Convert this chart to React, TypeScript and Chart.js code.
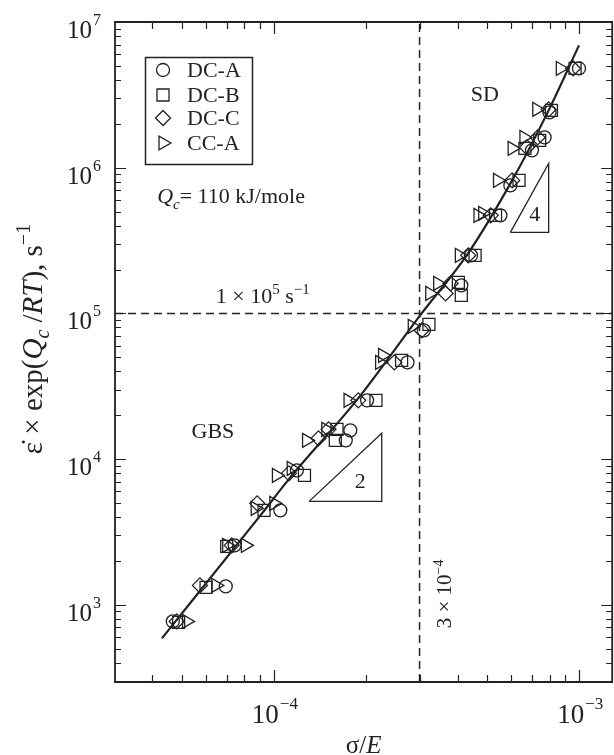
import React, { useEffect, useRef } from "react";
import { Chart, registerables } from "chart.js";

Chart.register(...registerables);

// ---- axis ranges ----
const X_MIN = 3.02e-5;
const X_MAX = 1.282e-3;
const Y_MIN = 295;
const Y_MAX = 1e7;

// ---- tick labels ----
const X_MAJOR = [1e-4, 1e-3];
const X_MAJOR_EXP = ["\u22124", "\u22123"];
const Y_MAJOR = [1e3, 1e4, 1e5, 1e6, 1e7];
const Y_MAJOR_EXP = ["3", "4", "5", "6", "7"];
const MINOR_MULT = [2, 3, 4, 5, 6, 7, 8, 9];
const X_DECADES = [-5, -4, -3];
const Y_DECADES = [2, 3, 4, 5, 6];

// ---- series ----
const SERIES_NAMES = ["DC-A", "DC-B", "DC-C", "CC-A"];

const dcA_x = [4.67e-5, 6.96e-5, 7.44e-5, 1.05e-4, 1.19e-4, 1.72e-4, 1.78e-4, 2.02e-4, 2.74e-4, 3.10e-4, 4.11e-4, 4.42e-4, 5.52e-4, 5.95e-4, 7.00e-4, 7.70e-4, 7.99e-4, 9.98e-4];
const dcA_y = [769, 1337, 2557, 4446, 8366, 13440, 15740, 25290, 46120, 76400, 155700, 250000, 470800, 755800, 1.315e6, 1.614e6, 2.396e6, 4.8e6];

const dcB_x = [4.88e-5, 6.0e-5, 7.01e-5, 9.29e-5, 1.26e-4, 1.59e-4, 1.61e-4, 2.16e-4, 2.62e-4, 3.22e-4, 4.11e-4, 4.02e-4, 4.56e-4, 5.32e-4, 6.35e-4, 6.64e-4, 7.42e-4, 8.11e-4, 9.69e-4];
const dcB_y = [757, 1316, 2518, 4446, 7727, 13440, 15990, 25290, 47560, 84030, 132900, 163200, 250000, 470800, 818000, 1.357e6, 1.54e6, 2.473e6, 4.8e6];

const dcC_x = [4.81e-5, 5.73e-5, 7.28e-5, 8.82e-5, 1.12e-4, 1.40e-4, 1.51e-4, 1.89e-4, 2.48e-4, 3.05e-4, 3.65e-4, 3.79e-4, 4.33e-4, 5.13e-4, 6.03e-4, 6.74e-4, 7.31e-4, 7.94e-4, 9.55e-4];
const dcC_y = [769, 1358, 2557, 4966, 7980, 13870, 15990, 25290, 46120, 76400, 137100, 160600, 250000, 470800, 818000, 1.378e6, 1.614e6, 2.512e6, 4.8e6];

const ccA_x = [5.18e-5, 6.46e-5, 7.01e-5, 8.07e-5, 8.69e-5, 1.0e-4, 1.02e-4, 1.14e-4, 1.28e-4, 1.48e-4, 1.75e-4, 2.22e-4, 2.27e-4, 2.84e-4, 3.24e-4, 3.44e-4, 4.05e-4, 4.66e-4, 4.83e-4, 5.40e-4, 6.03e-4, 6.59e-4, 7.26e-4, 8.67e-4];
const ccA_y = [769, 1358, 2557, 2557, 4590, 4966, 7727, 8630, 13440, 15990, 25290, 46120, 51500, 81400, 137100, 160600, 250000, 470800, 485600, 818000, 1.357e6, 1.614e6, 2.512e6, 4.8e6];

// fitted curve
const fit_x = [4.30e-5, 9.15e-5, 1.126e-4, 1.889e-4, 3.03e-4, 4.325e-4, 6.03e-4, 7.94e-4, 9.98e-4];
const fit_y = [588, 4240, 7372, 26100, 98400, 258100, 818000, 2.474e6, 6.91e6];

// regime boundaries
const RATE_TRANSITION = 1e5;
const STRESS_TRANSITION = 3e-4;

// slope triangles: [x1, x2, yLow, yHigh]
const TRI4 = [5.95e-4, 7.94e-4, 3.596e5, 1.07e6];
const TRI2 = [1.305e-4, 2.256e-4, 5125, 15010];

const FONT = '"Liberation Serif", serif';
const INK = "#222";

type Part = { t: string; it?: boolean; sup?: boolean; sub?: boolean };

function rich(ctx: CanvasRenderingContext2D, parts: Part[], x: number, y: number, size: number, align: "left" | "center" | "right" = "left", smallSize?: number) {
  const sm = smallSize ?? Math.round(size * 0.68);
  const fontOf = (p: Part) => `${p.it ? "italic " : ""}${p.sup || p.sub ? sm : size}px ${FONT}`;
  let w = 0;
  for (const p of parts) {
    ctx.font = fontOf(p);
    w += ctx.measureText(p.t).width;
  }
  let cx = align === "left" ? x : align === "center" ? x - w / 2 : x - w;
  ctx.textAlign = "left";
  ctx.textBaseline = "alphabetic";
  for (const p of parts) {
    ctx.font = fontOf(p);
    const dy = p.sup ? -size * 0.42 : p.sub ? size * 0.25 : 0;
    ctx.fillText(p.t, cx, y + dy);
    cx += ctx.measureText(p.t).width;
  }
  return w;
}

function marker(ctx: CanvasRenderingContext2D, kind: string, x: number, y: number) {
  ctx.beginPath();
  if (kind === "circle") {
    ctx.arc(x, y, 6.5, 0, Math.PI * 2);
  } else if (kind === "rect") {
    const s = 8.5 * Math.SQRT1_2;
    ctx.rect(x - s, y - s, 2 * s, 2 * s);
  } else if (kind === "rectRot") {
    const r = 7.5;
    ctx.moveTo(x, y - r);
    ctx.lineTo(x + r, y);
    ctx.lineTo(x, y + r);
    ctx.lineTo(x - r, y);
    ctx.closePath();
  } else {
    const r = 8;
    ctx.moveTo(x + r, y);
    ctx.lineTo(x - r / 2, y - r * Math.sin(Math.PI / 3));
    ctx.lineTo(x - r / 2, y + r * Math.sin(Math.PI / 3));
    ctx.closePath();
  }
  ctx.stroke();
}

const pts = (xs: number[], ys: number[]) => xs.map((x, i) => ({ x, y: ys[i] }));

const decorPlugin = {
  id: "decor",
  beforeDraw(chart: any) {
    const { ctx } = chart;
    ctx.save();
    ctx.fillStyle = "#fff";
    ctx.fillRect(0, 0, chart.width, chart.height);
    ctx.restore();
  },
  afterDraw(chart: any) {
    const { ctx, chartArea: a } = chart;
    const xs = chart.scales.x;
    const ys = chart.scales.y;
    ctx.save();
    ctx.strokeStyle = INK;
    ctx.fillStyle = INK;

    // frame
    ctx.lineWidth = 1.8;
    ctx.beginPath();
    ctx.rect(a.left, a.top, a.right - a.left, a.bottom - a.top);
    ctx.stroke();

    // ticks
    ctx.lineWidth = 1.2;
    ctx.beginPath();
    for (const d of X_DECADES) {
      for (const m of [1, ...MINOR_MULT]) {
        const v = m * Math.pow(10, d);
        if (v <= X_MIN || v >= X_MAX) continue;
        const px = Math.round(xs.getPixelForValue(v)) + 0.5;
        const len = m === 1 ? 12 : 7;
        ctx.moveTo(px, a.bottom);
        ctx.lineTo(px, a.bottom - len);
        ctx.moveTo(px, a.top);
        ctx.lineTo(px, a.top + len);
      }
    }
    for (const d of Y_DECADES) {
      for (const m of [1, ...MINOR_MULT]) {
        const v = m * Math.pow(10, d);
        if (v <= Y_MIN || v >= Y_MAX) continue;
        const py = Math.round(ys.getPixelForValue(v)) + 0.5;
        const len = m === 1 ? 11 : 6;
        ctx.moveTo(a.left, py);
        ctx.lineTo(a.left + len, py);
        ctx.moveTo(a.right, py);
        ctx.lineTo(a.right - len, py);
      }
    }
    ctx.stroke();

    // tick labels
    X_MAJOR.forEach((v, i) => {
      const px = xs.getPixelForValue(v);
      ctx.font = `27px ${FONT}`;
      ctx.textAlign = "right";
      ctx.textBaseline = "alphabetic";
      ctx.fillText("10", px + 5, a.bottom + 41);
      ctx.font = `17px ${FONT}`;
      ctx.textAlign = "left";
      ctx.fillText(X_MAJOR_EXP[i], px + 6, a.bottom + 27);
    });
    Y_MAJOR.forEach((v, i) => {
      const py = ys.getPixelForValue(v);
      ctx.font = `25px ${FONT}`;
      ctx.textAlign = "right";
      ctx.textBaseline = "alphabetic";
      ctx.fillText("10", a.left - 23, py + 16);
      ctx.font = `16px ${FONT}`;
      ctx.textAlign = "left";
      ctx.fillText(Y_MAJOR_EXP[i], a.left - 22, py + 3);
    });

    // axis titles
    rich(ctx, [{ t: "\u03c3/" }, { t: "E", it: true }], (a.left + a.right) / 2, 753, 25, "center");
    ctx.save();
    ctx.translate(42, 339);
    ctx.rotate(-Math.PI / 2);
    rich(ctx, [
      { t: "\u03b5\u0307 \u00d7 exp(" },
      { t: "Q", it: true },
      { t: "c", it: true, sub: true },
      { t: " /" },
      { t: "RT", it: true },
      { t: "), s" },
      { t: "\u22121", sup: true },
    ], 0, 0, 29, "center");
    ctx.restore();

    // annotations
    rich(ctx, [{ t: "Q", it: true }, { t: "c", it: true, sub: true }, { t: "= 110 kJ/mole" }],
      xs.getPixelForValue(4.15e-5), ys.getPixelForValue(5.69e5), 22, "left");
    rich(ctx, [{ t: "1 \u00d7 10" }, { t: "5", sup: true }, { t: " s" }, { t: "\u22121", sup: true }],
      xs.getPixelForValue(6.46e-5), ys.getPixelForValue(1.171e5), 22, "left");
    ctx.font = `22px ${FONT}`;
    ctx.textAlign = "center";
    ctx.textBaseline = "middle";
    ctx.fillText("SD", xs.getPixelForValue(4.91e-4), ys.getPixelForValue(3.13e6));
    ctx.fillText("GBS", xs.getPixelForValue(6.32e-5), ys.getPixelForValue(15240));
    ctx.fillText("4", xs.getPixelForValue(7.15e-4), ys.getPixelForValue(4.7e5));
    ctx.fillText("2", xs.getPixelForValue(1.917e-4), ys.getPixelForValue(6920));

    ctx.save();
    ctx.translate(xs.getPixelForValue(3.815e-4), ys.getPixelForValue(689));
    ctx.rotate(-Math.PI / 2);
    rich(ctx, [{ t: "3 \u00d7 10" }, { t: "\u22124", sup: true }], 0, 0, 21, "left");
    ctx.restore();

    // legend
    const bx = a.left + 30, by = a.top + 35, bw = 107, bh = 107;
    ctx.lineWidth = 1.5;
    ctx.strokeRect(bx + 0.5, by + 0.5, bw, bh);
    const kinds = ["circle", "rect", "rectRot", "triangle"];
    const rows = [13, 38, 61, 86];
    ctx.lineWidth = 1.3;
    SERIES_NAMES.forEach((name, i) => {
      const yy = by + rows[i];
      marker(ctx, kinds[i], bx + 18, yy);
      ctx.font = `22px ${FONT}`;
      ctx.textAlign = "left";
      ctx.textBaseline = "middle";
      ctx.fillText(name, bx + 42, yy + 1);
    });
    ctx.restore();
  },
};

export default function App() {
  const ref = useRef<HTMLCanvasElement>(null);
  useEffect(() => {
    if (!ref.current) return;
    const markerStyle = {
      showLine: false,
      borderColor: INK,
      backgroundColor: "rgba(0,0,0,0)",
      pointBorderWidth: 1.3,
      borderWidth: 1.3,
    };
    const triangle = (d: number[]) => [
      { x: d[0], y: d[2] },
      { x: d[1], y: d[3] },
      { x: d[1], y: d[2] },
      { x: d[0], y: d[2] },
    ];
    const lineStyle = {
      showLine: true,
      pointRadius: 0,
      borderColor: INK,
      backgroundColor: INK,
      fill: false,
    };
    const chart = new Chart(ref.current, {
      type: "scatter",
      data: {
        datasets: [
          { ...lineStyle, data: [{ x: X_MIN, y: RATE_TRANSITION }, { x: X_MAX, y: RATE_TRANSITION }], borderWidth: 1.5, borderDash: [8, 5] },
          { ...lineStyle, data: [{ x: STRESS_TRANSITION, y: Y_MIN }, { x: STRESS_TRANSITION, y: Y_MAX }], borderWidth: 1.5, borderDash: [8, 5] },
          { ...lineStyle, data: triangle(TRI4), borderWidth: 1.3, tension: 0 },
          { ...lineStyle, data: triangle(TRI2), borderWidth: 1.3, tension: 0 },
          { ...lineStyle, data: pts(fit_x, fit_y), borderWidth: 2.2, cubicInterpolationMode: "monotone" },
          { ...markerStyle, label: SERIES_NAMES[0], data: pts(dcA_x, dcA_y), pointStyle: "circle", pointRadius: 6.5 },
          { ...markerStyle, label: SERIES_NAMES[1], data: pts(dcB_x, dcB_y), pointStyle: "rect", pointRadius: 8.5 },
          { ...markerStyle, label: SERIES_NAMES[2], data: pts(dcC_x, dcC_y), pointStyle: "rectRot", pointRadius: 7.5 },
          { ...markerStyle, label: SERIES_NAMES[3], data: pts(ccA_x, ccA_y), pointStyle: "triangle", rotation: 90, pointRadius: 8 },
        ] as any,
      },
      options: {
        responsive: false,
        animation: false,
        devicePixelRatio: 1,
        layout: { padding: { left: 115, top: 22, right: 0, bottom: 73 } },
        plugins: { legend: { display: false }, tooltip: { enabled: false } },
        events: [],
        scales: {
          x: { type: "logarithmic", min: X_MIN, max: X_MAX, display: false },
          y: { type: "logarithmic", min: Y_MIN, max: Y_MAX, display: false },
        },
      },
      plugins: [decorPlugin],
    });
    return () => chart.destroy();
  }, []);
  return (
    <div style={{ position: "absolute", left: 0, top: 0, width: 614, height: 755, overflow: "hidden", background: "#fff" }}>
      <canvas ref={ref} width={622} height={755} style={{ display: "block", width: 622, height: 755 }} />
    </div>
  );
}
